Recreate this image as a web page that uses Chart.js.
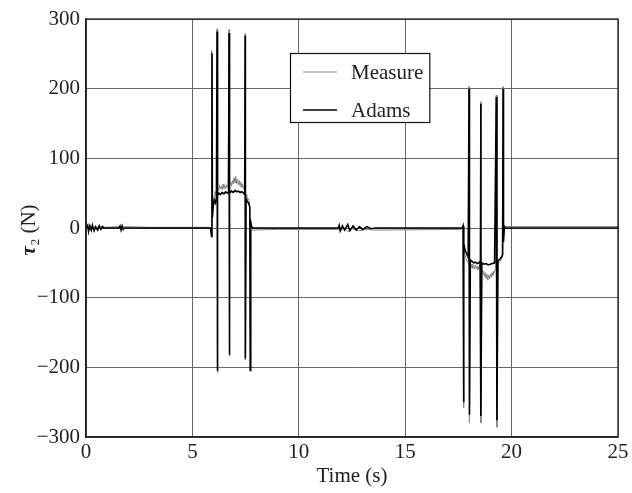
<!DOCTYPE html>
<html>
<head>
<meta charset="utf-8">
<script src="https://cdn.jsdelivr.net/npm/chart.js@4/dist/chart.umd.min.js"></script>
<style>
html,body{margin:0;padding:0;background:#fff;}
#wrap{width:632px;height:493px;}
</style>
</head>
<body>
<div id="wrap"><canvas id="c" width="632" height="493"></canvas></div>
<script>
// ---- data ----
const seriesNames = ["Measure", "Adams"];
const xTicks = [0, 5, 10, 15, 20, 25];
const yTicks = [-300, -200, -100, 0, 100, 200, 300];
const xTitle = "Time (s)";

// [time (s), torque (N)]
const measureData = [
[0,1],[0.1,3],[0.2,-3],[0.3,2],[0.5,-2],[0.7,2],[0.9,1],[1.6,2],[1.7,-1],[1.8,2],[3.0,1],[5.8,1],[5.88,0],[5.9,-10],[5.92,255],[5.94,20],[5.98,38],[6.02,45],[6.06,52],[6.1,48],[6.13,55],[6.16,286],[6.17,-208],[6.2,58],[6.24,54],[6.28,62],[6.32,56],[6.36,60],[6.4,55],[6.44,63],[6.48,57],[6.52,61],[6.56,56],[6.6,62],[6.64,58],[6.68,60],[6.72,285],[6.73,-184],[6.76,62],[6.8,66],[6.84,60],[6.88,68],[6.92,63],[6.96,72],[7.0,65],[7.04,74],[7.08,64],[7.12,70],[7.16,62],[7.2,68],[7.24,60],[7.28,66],[7.32,58],[7.36,63],[7.4,56],[7.44,58],[7.48,279],[7.49,-189],[7.52,48],[7.56,44],[7.6,40],[7.64,42],[7.68,36],[7.72,-206],[7.74,12],[7.78,-2],[7.85,-3],[9.0,-2],[11.85,-2],[11.95,-4],[12.1,0],[12.3,-5],[12.5,-1],[12.8,-4],[13.2,-2],[13.6,-3],[17.6,-2],[17.68,-1],[17.72,2],[17.74,-258],[17.76,-28],[17.8,-38],[17.86,-44],[17.92,-48],[17.98,-52],[18.0,203],[18.02,-280],[18.06,-54],[18.1,-57],[18.14,-52],[18.18,-58],[18.22,-54],[18.26,-59],[18.3,-53],[18.34,-58],[18.38,-55],[18.42,-60],[18.46,-56],[18.5,-58],[18.55,181],[18.56,-280],[18.6,-60],[18.64,-66],[18.68,-62],[18.72,-70],[18.76,-64],[18.8,-72],[18.84,-66],[18.88,-75],[18.92,-68],[18.96,-73],[19.0,-66],[19.04,-71],[19.08,-64],[19.12,-68],[19.16,-62],[19.2,-64],[19.24,-58],[19.28,191],[19.31,-286],[19.34,-54],[19.4,-50],[19.46,-48],[19.52,-45],[19.56,-40],[19.6,203],[19.62,-15],[19.66,4],[19.7,2],[25,2]
];
const adamsData = [
[0,0],[0.08,4],[0.12,-5],[0.18,3],[0.25,-3],[0.3,4],[0.38,-4],[0.45,2],[0.55,-3],[0.62,3],[0.7,-2],[0.78,2],[0.85,0],[1.55,0],[1.6,3],[1.65,-3],[1.7,3],[1.75,-2],[1.8,0],[5.85,0],[5.9,-12],[5.92,251],[5.94,15],[5.98,32],[6.03,40],[6.08,36],[6.13,44],[6.16,282],[6.17,-205],[6.19,47],[6.25,50],[6.32,48],[6.4,51],[6.48,49],[6.56,52],[6.64,50],[6.7,52],[6.72,280],[6.73,-182],[6.76,50],[6.84,53],[6.92,51],[7.0,54],[7.08,52],[7.16,53],[7.24,51],[7.32,52],[7.4,50],[7.46,48],[7.48,276],[7.49,-187],[7.52,42],[7.58,38],[7.64,36],[7.7,30],[7.72,-204],[7.74,8],[7.78,2],[7.85,0],[11.85,0],[11.9,4],[11.95,-4],[12.05,3],[12.15,-3],[12.3,5],[12.4,-4],[12.55,3],[12.7,-3],[12.85,2],[13.0,-2],[13.2,2],[13.4,-1],[13.6,0],[17.68,0],[17.72,3],[17.74,-250],[17.76,-22],[17.82,-32],[17.9,-38],[17.96,-42],[18.0,200],[18.02,-268],[18.06,-46],[18.14,-48],[18.22,-50],[18.3,-49],[18.38,-51],[18.46,-50],[18.52,-48],[18.55,178],[18.56,-270],[18.6,-50],[18.7,-52],[18.8,-51],[18.9,-53],[19.0,-52],[19.1,-51],[19.2,-50],[19.28,188],[19.31,-276],[19.36,-47],[19.44,-45],[19.52,-42],[19.58,-38],[19.6,200],[19.62,-20],[19.66,2],[19.7,0],[25,0]
];

const SERIF = "'Liberation Serif', 'DejaVu Serif', serif";
const FS = 21;
const toXY = arr => arr.map(p => ({x: p[0], y: p[1]}));
const fmt = v => (v < 0 ? "\u2212" + Math.abs(v) : String(v));

const extras = {
  id: 'extras',
  afterDraw(chart) {
    const ctx = chart.ctx, a = chart.chartArea;
    ctx.save();
    // frame
    ctx.strokeStyle = '#222';
    ctx.lineWidth = 1.3;
    ctx.strokeRect(a.left, a.top, a.right - a.left, a.bottom - a.top);
    // legend box
    const ds = chart.data.datasets;
    ctx.font = FS + "px " + SERIF;
    let tw = 0;
    ds.forEach(d => { tw = Math.max(tw, ctx.measureText(d.label).width); });
    const bx = 290, by = 53, bh = 69;
    const bw = (351 + tw + 6) - bx;
    ctx.fillStyle = '#fff';
    ctx.fillRect(bx, by, bw, bh);
    ctx.strokeStyle = '#111';
    ctx.lineWidth = 1.2;
    ctx.strokeRect(bx + 0.5, by + 0.5, bw, bh);
    const rows = [72, 110];
    ds.forEach((d, i) => {
      const y = rows[i];
      ctx.strokeStyle = d.borderColor;
      ctx.lineWidth = d.borderWidth;
      ctx.beginPath();
      ctx.moveTo(303, y);
      ctx.lineTo(337, y);
      ctx.stroke();
      ctx.fillStyle = '#222';
      ctx.font = FS + "px " + SERIF;
      ctx.textBaseline = 'middle';
      ctx.textAlign = 'left';
      ctx.fillText(d.label, 351, y + 1);
    });
    // y axis title: tau_2 (N)
    ctx.translate(28, 230);
    ctx.rotate(-Math.PI / 2);
    ctx.fillStyle = '#222';
    ctx.textBaseline = 'alphabetic';
    ctx.textAlign = 'left';
    const f1 = "italic bold 21px " + SERIF, f2 = "13px " + SERIF, f3 = FS + "px " + SERIF;
    ctx.font = f1; const w1 = ctx.measureText("\u03C4").width;
    ctx.font = f2; const w2 = ctx.measureText("2").width;
    ctx.font = f3; const w3 = ctx.measureText(" (N)").width;
    let x0 = -(w1 + w2 + 1 + w3) / 2;
    ctx.font = f1; ctx.fillText("\u03C4", x0, 7);
    ctx.font = f2; ctx.fillText("2", x0 + w1 + 1, 11);
    ctx.font = f3; ctx.fillText(" (N)", x0 + w1 + w2 + 1, 7);
    ctx.restore();
  }
};

new Chart(document.getElementById('c'), {
  type: 'line',
  data: {
    datasets: [
      { label: seriesNames[0], data: toXY(measureData), borderColor: '#858585', borderWidth: 1, order: 1 },
      { label: seriesNames[1], data: toXY(adamsData), borderColor: '#000', borderWidth: 1.6, order: 0 }
    ]
  },
  options: {
    responsive: false,
    animation: false,
    devicePixelRatio: 1,
    elements: { point: { radius: 0 }, line: { tension: 0, fill: false } },
    layout: { padding: { top: 19, right: 14, left: 0, bottom: 0 } },
    plugins: { legend: { display: false }, tooltip: { enabled: false } },
    scales: {
      x: {
        type: 'linear', min: 0, max: 25,
        afterBuildTicks: s => { s.ticks = xTicks.map(v => ({ value: v })); },
        afterFit: s => { s.height = 56; },
        ticks: { callback: v => fmt(v), color: '#222', font: { family: SERIF, size: FS }, padding: 3, maxRotation: 0 },
        grid: { color: '#666', lineWidth: 1, drawTicks: false },
        border: { color: '#222', width: 1.3 },
        title: { display: true, text: xTitle, color: '#222', font: { family: SERIF, size: FS }, padding: { top: 0, bottom: 4 } }
      },
      y: {
        type: 'linear', min: -300, max: 300,
        afterBuildTicks: s => { s.ticks = yTicks.map(v => ({ value: v })); },
        afterFit: s => { s.width = 86; },
        ticks: { callback: v => fmt(v), color: '#222', font: { family: SERIF, size: FS }, padding: 6 },
        grid: { color: '#666', lineWidth: 1, drawTicks: false },
        border: { color: '#222', width: 1.3 }
      }
    }
  },
  plugins: [extras]
});
</script>
</body>
</html>
